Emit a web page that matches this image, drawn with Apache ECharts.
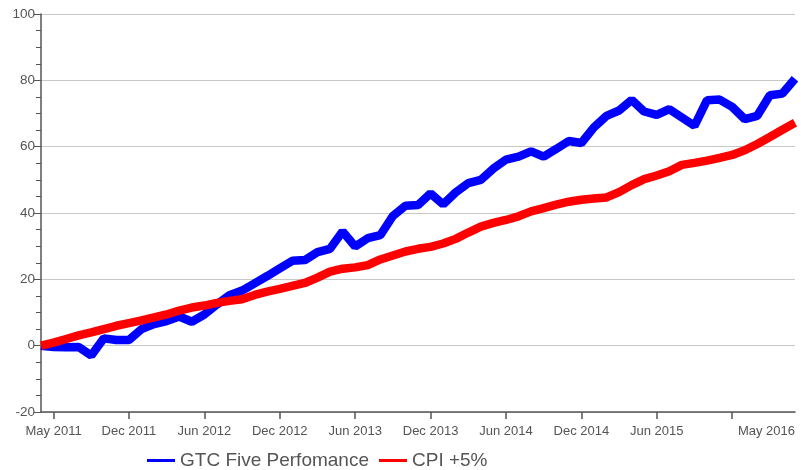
<!DOCTYPE html>
<html>
<head>
<meta charset="utf-8">
<script src="https://cdn.jsdelivr.net/npm/echarts@6/dist/echarts.min.js"></script>
<style>html,body{margin:0;padding:0;background:#fff}#c{width:801px;height:470px}</style>
</head>
<body>
<div id="c"></div>
<script>
const seriesNames = ['GTC Five Perfomance', 'CPI +5%'];

// 61 monthly points
const months = [];
(function(){
  const mn = ['Jan','Feb','Mar','Apr','May','Jun','Jul','Aug','Sep','Oct','Nov','Dec'];
  let m = 4, y = 2011;
  for (let i = 0; i < 61; i++) { months.push(mn[m] + ' ' + y); m++; if (m === 12) { m = 0; y++; } }
})();

// labels shown under the x-axis ('' = no label)
const tickLabels = {
  1: 'May 2011', 7: 'Dec 2011', 13: 'Jun 2012', 19: 'Dec 2012', 25: 'Jun 2013',
  31: 'Dec 2013', 37: 'Jun 2014', 43: 'Dec 2014', 49: 'Jun 2015', 55: '', 60: 'May 2016'
};

const gtc = [0, -0.4, -0.5, -0.4, -3.0, 2.2, 1.7, 1.7, 5.0, 6.5,
  7.4, 8.8, 7.2, 9.4, 12.4, 15.2, 16.6, 18.8, 21.0, 23.3,
  25.6, 25.8, 28.2, 29.2, 34.4, 29.9, 32.4, 33.3, 39.1, 42.2,
  42.4, 45.9, 42.6, 46.2, 49.0, 50.0, 53.4, 56.1, 57.0, 58.6,
  57.0, 59.3, 61.7, 61.1, 65.8, 69.3, 70.9, 74.1, 70.6, 69.6,
  71.3, 68.8, 66.3, 74.0, 74.2, 72.0, 68.3, 69.3, 75.5, 76.0, 80.5];

const cpi = [0, 0.9, 2.0, 3.1, 4.0, 5.0, 6.0, 6.8, 7.6, 8.5,
  9.4, 10.6, 11.5, 12.1, 12.9, 13.5, 14.0, 15.3, 16.3, 17.1,
  18.0, 18.9, 20.5, 22.3, 23.2, 23.6, 24.3, 26.0, 27.2, 28.4,
  29.2, 29.8, 30.8, 32.2, 34.1, 35.9, 37.0, 37.9, 39.0, 40.5,
  41.5, 42.5, 43.4, 44.0, 44.4, 44.7, 46.3, 48.4, 50.2, 51.3,
  52.6, 54.5, 55.1, 55.8, 56.6, 57.5, 58.9, 60.8, 62.9, 65.1, 67.2];

const chart = echarts.init(document.getElementById('c'), null, {renderer: 'canvas'});
const font = '"Liberation Sans", Arial, sans-serif';
chart.setOption({
  animation: false,
  backgroundColor: '#fff',
  grid: {left: 41, right: 6, top: 14, bottom: 58, containLabel: false},
  legend: {
    left: 142, top: 446,
    icon: 'rect', itemWidth: 28, itemHeight: 3, itemGap: 10,
    textStyle: {fontFamily: font, fontSize: 19, color: '#555'},
    data: seriesNames
  },
  xAxis: {
    type: 'category',
    data: months,
    boundaryGap: false,
    axisLine: {onZero: false, lineStyle: {color: '#555', width: 1.5}},
    axisTick: {show: true, length: 7, lineStyle: {color: '#555', width: 1.5},
      interval: function (i) { return tickLabels.hasOwnProperty(i) && i !== 60; }},
    axisLabel: {
      interval: function (i) { return tickLabels.hasOwnProperty(i) && tickLabels[i] !== ''; },
      formatter: function (v, i) { return tickLabels[i] || ''; },
      fontFamily: font, fontSize: 13, color: '#555', margin: 13,
      alignMaxLabel: 'right'
    },
    splitLine: {show: false}
  },
  yAxis: {
    type: 'value', min: -20, max: 100, interval: 20,
    axisLine: {show: true, lineStyle: {color: '#555', width: 1.5}},
    axisTick: {show: true, length: 7, lineStyle: {color: '#555'}},
    minorTick: {show: true, splitNumber: 4, length: 5, lineStyle: {color: '#555'}},
    axisLabel: {fontFamily: font, fontSize: 13.5, color: '#555', margin: 6},
    splitLine: {show: true, lineStyle: {color: '#c8c8c8', width: 1.2}}
  },
  series: [
    {name: seriesNames[0], type: 'line', data: gtc, showSymbol: false, symbol: 'none',
     itemStyle: {color: '#0000ff'}, lineStyle: {color: '#0000ff', width: 8.5}},
    {name: seriesNames[1], type: 'line', data: cpi, showSymbol: false, symbol: 'none',
     itemStyle: {color: '#ff0000'}, lineStyle: {color: '#ff0000', width: 8.5}}
  ]
});
</script>
</body>
</html>
